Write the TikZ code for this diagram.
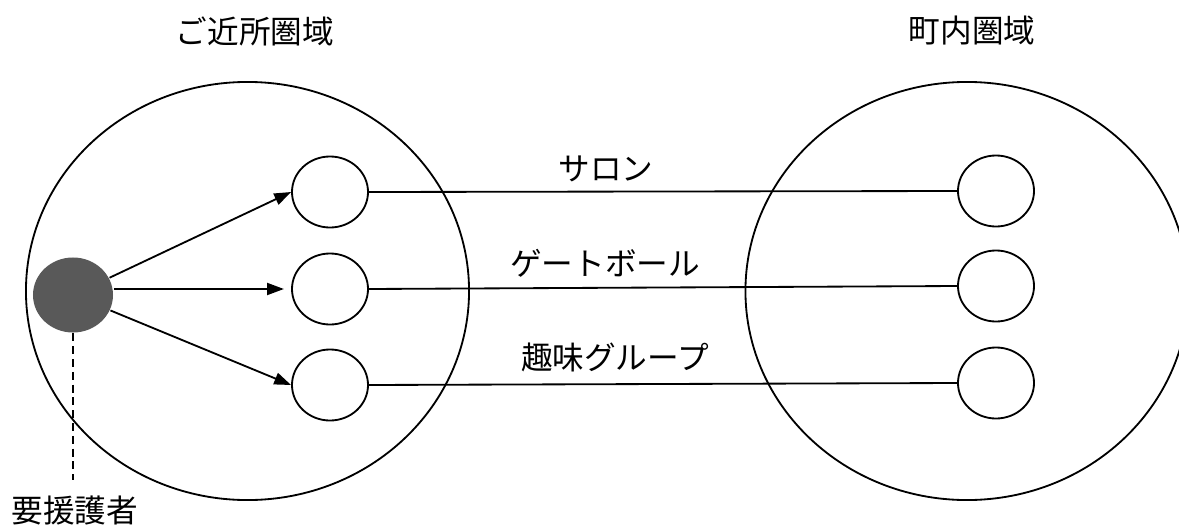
\documentclass[tikz,border=0pt]{standalone}
\usepackage{fontspec}
\setmainfont{Noto Sans CJK JP}
\usetikzlibrary{shapes.geometric,arrows.meta}
\definecolor{persongray}{HTML}{595959}
\begin{document}
\begin{tikzpicture}[x=0.025cm,y=-0.025cm,line width=1.3pt,
  area/.style={draw,ellipse,inner sep=0pt,minimum width=11.075cm,minimum height=10.45cm},
  member/.style={draw,ellipse,inner sep=0pt,minimum width=1.9cm,minimum height=1.775cm},
  label/.style={font=\fontsize{22.5}{26}\selectfont,inner sep=0pt},
  tip/.style={-{Triangle[length=0.42cm,width=0.3cm]}}]
\useasboundingbox (0,0) rectangle (1179,526);
\clip (0,0) rectangle (1179,526);
\node[area] (kinjo) at (247.5,291) {};
\node[area] (chonai) at (967,291) {};
\node[label] (kinjotitle) at (255,31) {ご近所圏域};
\node[label] (chonaititle) at (972,31) {町内圏域};
\node[fill=persongray,ellipse,inner sep=0pt,minimum width=2cm,minimum height=1.875cm] (person) at (73,295) {};
\node[member] (l1) at (330,192) {};
\node[member] (l2) at (330,289) {};
\node[member] (l3) at (330,385) {};
\node[member] (r1) at (996,191) {};
\node[member] (r2) at (996,286) {};
\node[member] (r3) at (996,383) {};
\draw (l1.east) -- (r1.west);
\draw (l2.east) -- (r2.west);
\draw (l3.east) -- (r3.west);
\node[label] (salon) at (606,169) {サロン};
\node[label] (gateball) at (605,263) {ゲートボール};
\node[label] (hobby) at (615,357) {趣味グループ};
\draw[tip] (person) -- (l1.west);
\draw[tip,shorten >=0.18cm] (person.east |- l2.west) -- (l2.west);
\draw[tip] (person) -- (l3.west);
\coordinate (dashend) at (73,480);
\draw[dash pattern=on 0.2cm off 0.12cm] (person.south) -- (dashend);
\node[label] (youengo) at (75,511) {要援護者};
\end{tikzpicture}
\end{document}
